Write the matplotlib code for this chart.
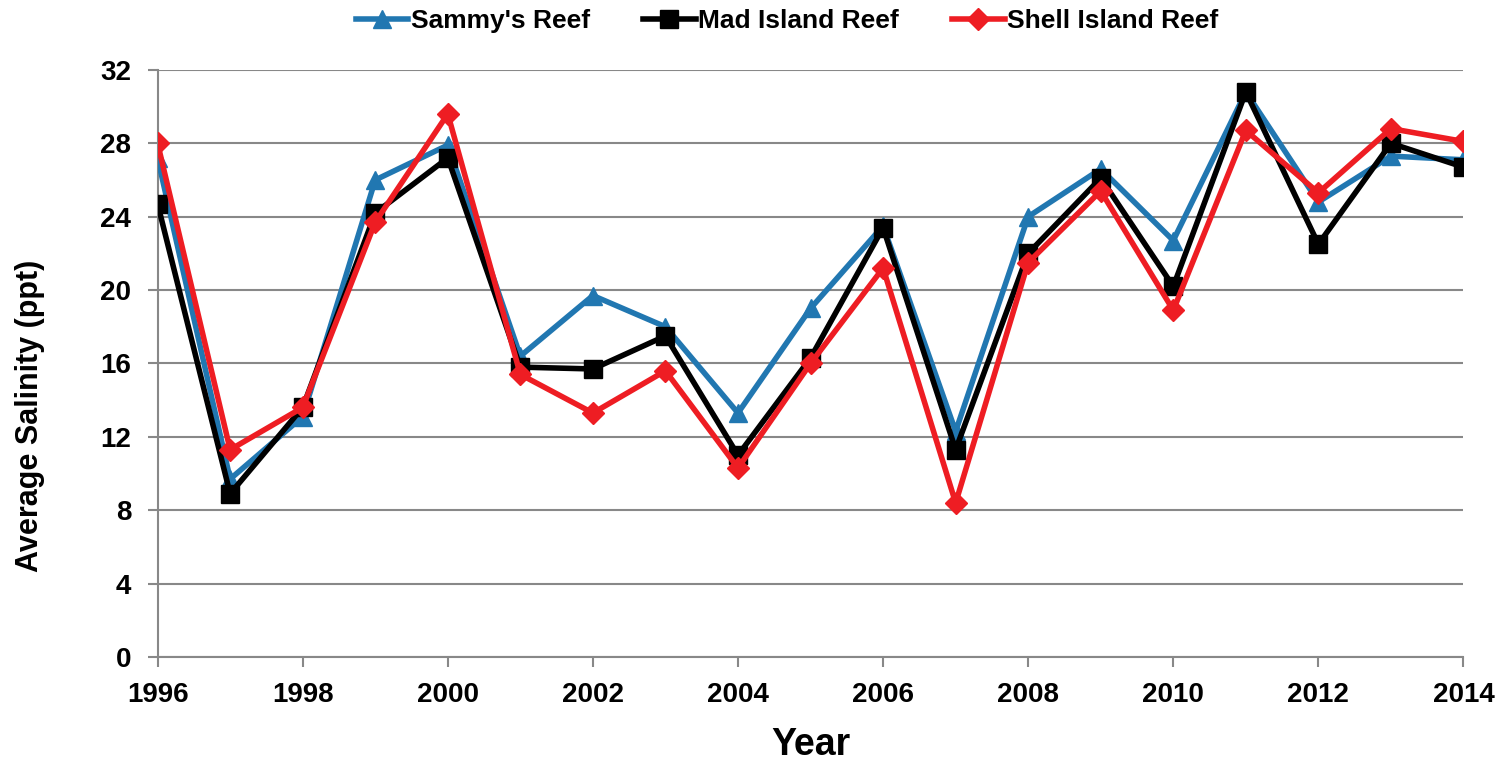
import matplotlib
matplotlib.use("Agg")
from matplotlib import pyplot as plt

years = list(range(1996, 2015))
sammy = [27.2, 9.7, 13.1, 26.0, 27.9, 16.4, 19.7, 18.0, 13.3, 19.0, 23.5, 12.3, 24.0, 26.6, 22.7, 30.8, 24.8, 27.3, 27.1]
mad = [24.7, 8.9, 13.6, 24.2, 27.2, 15.8, 15.7, 17.5, 11.0, 16.3, 23.4, 11.3, 22.0, 26.1, 20.2, 30.8, 22.5, 28.0, 26.7]
shell = [28.0, 11.3, 13.6, 23.7, 29.6, 15.4, 13.3, 15.6, 10.3, 16.0, 21.2, 8.4, 21.5, 25.4, 18.9, 28.7, 25.3, 28.8, 28.1]

plt.rcParams['font.family'] = ['Liberation Sans', 'DejaVu Sans']
plt.rcParams['font.weight'] = 'bold'

fig = plt.figure(figsize=(15.01, 7.68), dpi=100)
ax = fig.add_axes([0.105, 0.1445, 0.870, 0.7645])

ax.plot(years, sammy, color='#2177b1', lw=4, marker='^', ms=13, label="Sammy's Reef", zorder=3)
ax.plot(years, mad, color='black', lw=4, marker='s', ms=12.5, label="Mad Island Reef", zorder=4)
ax.plot(years, shell, color='#ee1d23', lw=4, marker='D', ms=11, label="Shell Island Reef", zorder=5)

ax.set_xlim(1996, 2014)
ax.set_ylim(0, 32)
ax.set_xticks(range(1996, 2015, 2))
ax.set_yticks(range(0, 33, 4))
ax.yaxis.grid(True, color='#888888', lw=1.5)
ax.set_axisbelow(True)
for s in ['top', 'right']:
    ax.spines[s].set_visible(False)
ax.spines['left'].set_color('#888888')
ax.spines['bottom'].set_color('#888888')
ax.spines['left'].set_linewidth(1.5)
ax.spines['bottom'].set_linewidth(1.5)
ax.tick_params(axis='both', labelsize=20, color='#888888', width=1.5, length=7)
ax.tick_params(axis='x', pad=11)
ax.tick_params(axis='y', pad=12)
for lab in ax.get_xticklabels() + ax.get_yticklabels():
    lab.set_fontweight('bold')

ax.set_xlabel('Year', fontsize=27, fontweight='bold')
ax.xaxis.set_label_coords(0.5, -0.15)
ax.xaxis.label.set_va('center')
ax.set_ylabel('Average Salinity (ppt)', fontsize=22, fontweight='bold')
ax.yaxis.set_label_coords(-0.098, 0.41)
ax.yaxis.label.set_va('center')

ax.legend(loc='center', bbox_to_anchor=(0.482, 1.083), ncol=3, frameon=False,
          fontsize=19, handlelength=2.0, handletextpad=0.1, columnspacing=2.0)

fig.savefig('out.png', dpi=100)
